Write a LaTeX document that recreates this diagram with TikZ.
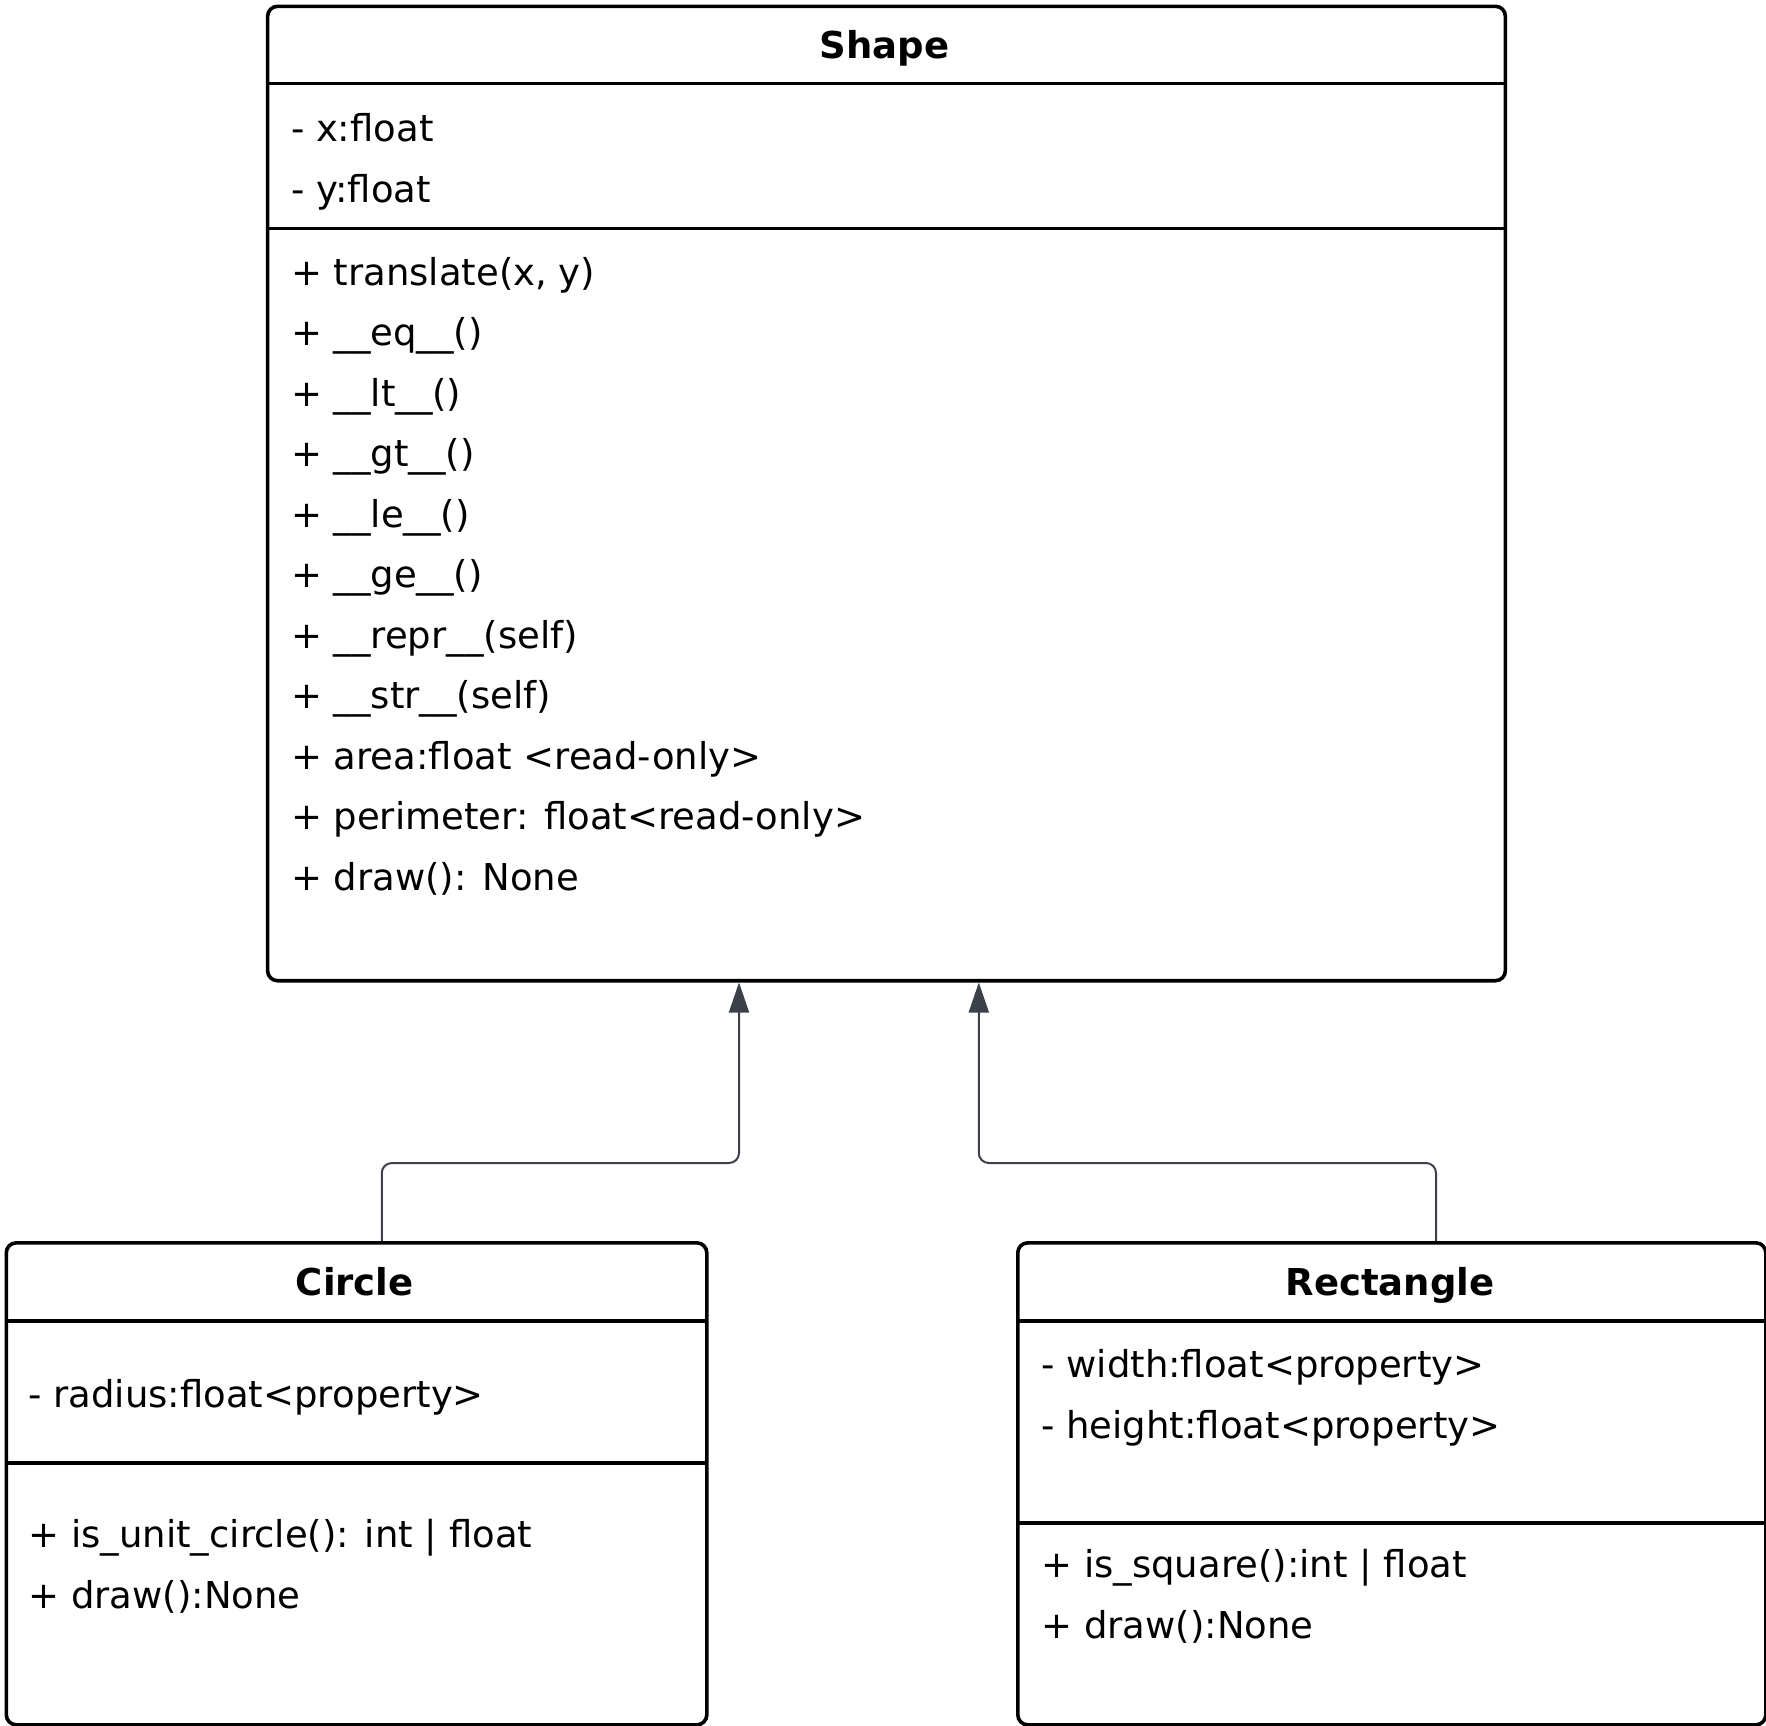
\documentclass[tikz,border=0pt]{standalone}
\usepackage{fontspec}
\setmainfont{DejaVu Sans}
\usetikzlibrary{arrows.meta}
\definecolor{linkgray}{HTML}{3B4049}
\begin{document}
\begin{tikzpicture}[x=0.5pt,y=-0.5pt,
  classbox/.style={draw=black, line width=1.8pt, rounded corners=5pt, fill=white,
    inner sep=0pt, anchor=north west},
  divider/.style={draw=black, line width=1.8pt},
  member/.style={anchor=base west, inner sep=0pt, font=\fontsize{18.5pt}{22pt}\selectfont},
  title/.style={anchor=base, inner sep=0pt, font=\fontsize{18.5pt}{22pt}\selectfont\bfseries},
  inherit/.style={draw=linkgray, line width=1pt, rounded corners=5pt,
    -{Triangle[length=15pt,width=10pt]}}]

\path[use as bounding box] (0,0) rectangle (1766,1725);

% class boxes
\node[classbox, minimum width=618.9pt, minimum height=487.2pt] (shape) at (265.8,4.5) {};
\node[classbox, minimum width=350.25pt, minimum height=241pt] (circle) at (4.5,1241) {};
\node[classbox, minimum width=374pt, minimum height=241pt] (rect) at (1016,1241) {};

% compartment dividers
\draw[divider] (265.8,83.3) -- (1503.6,83.3);
\draw[divider] (265.8,228.6) -- (1503.6,228.6);
\draw[divider] (4.5,1321) -- (705,1321);
\draw[divider] (4.5,1463) -- (705,1463);
\draw[divider] (1016,1321) -- (1764,1321);
\draw[divider] (1016,1523) -- (1764,1523);

% Shape
\node[title] (shapetitle) at (884.7,58) {Shape};
\node[member] (sa1) at (290.6,141) {- x:float};
\node[member] (sa2) at (290.6,202) {- y:float};
\node[member] (sm1) at (290.6,285.1) {+ translate(x, y)};
\node[member] (sm2) at (290.6,345.6) {+ \_\_eq\_\_()};
\node[member] (sm3) at (290.6,406.1) {+ \_\_lt\_\_()};
\node[member] (sm4) at (290.6,466.6) {+ \_\_gt\_\_()};
\node[member] (sm5) at (290.6,527.0) {+ \_\_le\_\_()};
\node[member] (sm6) at (290.6,587.5) {+ \_\_ge\_\_()};
\node[member] (sm7) at (290.6,648.0) {+ \_\_repr\_\_(self)};
\node[member] (sm8) at (290.6,708.5) {+ \_\_str\_\_(self)};
\node[member] (sm9) at (290.6,769.0) {+ area:float <read-only>};
\node[member] (sm10) at (290.6,829.5) {+ perimeter: float<read-only>};
\node[member] (sm11) at (290.6,890.0) {+ draw(): None};

% Circle
\node[title] (circletitle) at (354.8,1295) {Circle};
\node[member] (ca1) at (28,1407) {- radius:float<property>};
\node[member] (cm1) at (28,1547) {+ is\_unit\_circle(): int | float};
\node[member] (cm2) at (28,1608) {+ draw():None};

% Rectangle
\node[title] (recttitle) at (1390,1295) {Rectangle};
\node[member] (ra1) at (1041,1377) {- width:float<property>};
\node[member] (ra2) at (1041,1438) {- height:float<property>};
\node[member] (rm1) at (1041,1577) {+ is\_square():int | float};
\node[member] (rm2) at (1041,1638) {+ draw():None};

% inheritance links
\coordinate (cbendA) at (381.8,1163);
\coordinate (cbendB) at (739,1163);
\coordinate (rbendA) at (1436,1163);
\coordinate (rbendB) at (978.8,1163);
\draw[inherit] (circle.north -| cbendA) -- (cbendA) -- (cbendB) -- (shape.south -| cbendB);
\draw[inherit] (rect.north -| rbendA) -- (rbendA) -- (rbendB) -- (shape.south -| rbendB);
\end{tikzpicture}
\end{document}
